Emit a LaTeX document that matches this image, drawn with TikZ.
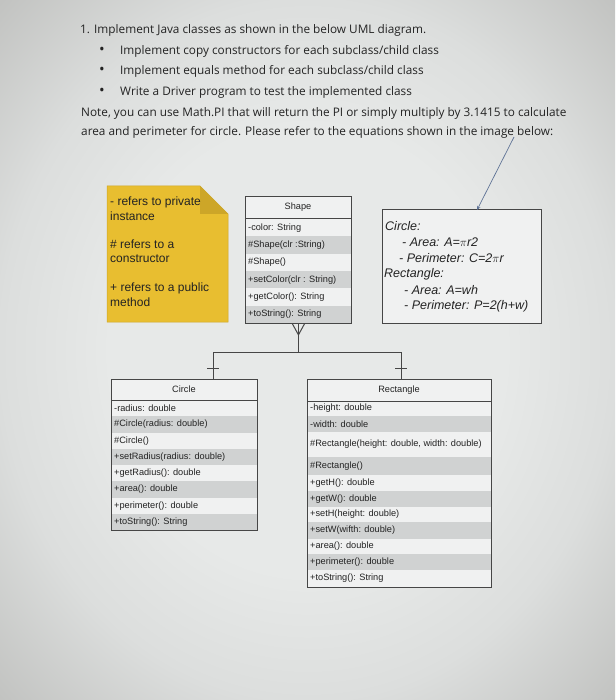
\documentclass[tikz,border=0pt]{standalone}
\usepackage{fontspec}
\setmainfont{Open Sans}
\newfontfamily\umlfont{Liberation Sans}
\usetikzlibrary{arrows.meta,calc}
\definecolor{bgin}{RGB}{231,233,232}
\definecolor{bgmid}{RGB}{220,222,221}
\definecolor{bgout}{RGB}{192,193,191}
\definecolor{boxfill}{RGB}{240,241,241}
\definecolor{rowshade}{RGB}{208,210,210}
\definecolor{boxline}{RGB}{70,70,70}
\definecolor{notey}{RGB}{232,190,48}
\definecolor{notefold}{RGB}{205,166,40}
\definecolor{txt}{RGB}{35,35,35}
\definecolor{ptrcol}{RGB}{95,115,150}
\pgfdeclareradialshading{vign}{\pgfpoint{0bp}{0bp}}{color(0bp)=(bgin); color(16bp)=(bgin); color(25bp)=(bgmid); color(36bp)=(bgout); color(50bp)=(bgout)}
\tikzset{
  headtext/.style={anchor=base west, inner sep=0pt, text=txt, font=\fontsize{11.8}{14}\selectfont},
  bullettext/.style={anchor=center, inner sep=0pt, text=txt, font=\fontsize{15}{15}\selectfont},
  rowtext/.style={inner sep=0pt, text=txt, font=\umlfont\fontsize{9.2}{11}\selectfont},
  notetext/.style={anchor=west, inner sep=0pt, text=txt, font=\umlfont\fontsize{12}{14}\selectfont},
  formtext/.style={anchor=west, inner sep=0pt, text=txt, font=\umlfont\itshape\fontsize{12.5}{14}\selectfont},
  umlbox/.style={draw=boxline, line width=0.9pt, fill=boxfill, anchor=north west, inner sep=0pt},
  conn/.style={draw=boxline, line width=1pt},
  ptr/.style={draw=ptrcol, line width=0.7pt, -{Stealth[length=4pt,width=3.5pt]}}
}
\newcommand\umlrow[7]{%
  \ifnum#6=1 \fill[rowshade] ({#2+0.5},#3) rectangle ++({#4-1},#5);\fi
  \node[rowtext, anchor=west] (#1) at ({#2+3},{#3+#5/2}) {#7};}
\begin{document}
\begin{tikzpicture}[x=1pt,y=-1pt]
\shade[shading=vign] (0,0) rectangle (615,700);
\useasboundingbox (0,0) rectangle (615,700);
% header text
\node[headtext] (h1) at (80,34) {1. Implement Java classes as shown in the below UML diagram.};
\node[bullettext] (b1) at (102,51) {•};
\node[headtext] (t1) at (120,55) {Implement copy constructors for each subclass/child class};
\node[bullettext] (b2) at (102,71) {•};
\node[headtext] (t2) at (120,75) {Implement equals method for each subclass/child class};
\node[bullettext] (b3) at (102,92) {•};
\node[headtext] (t3) at (120,96) {Write a Driver program to test the implemented class};
\node[headtext] (n1) at (81,117) {Note, you can use Math.PI that will return the PI or simply multiply by 3.1415 to calculate};
\node[headtext] (n2) at (81,136) {area and perimeter for circle. Please refer to the equations shown in the image below:};
% note
\fill[notey, draw=notefold, line width=0.5pt] (107,186) -- (200,186) -- (228,214) -- (228,322) -- (107,322) -- cycle;
\fill[notefold] (200,186) -- (200,214) -- (228,214) -- cycle;
\node[notetext] (nt1) at (110,202) {- refers to private};
\node[notetext] (nt2) at (110,216) {instance};
\node[notetext] (nt3) at (110,244) {\# refers to a};
\node[notetext] (nt4) at (110,259) {constructor};
\node[notetext] (nt5) at (110,288) {+ refers to a public};
\node[notetext] (nt6) at (110,302) {method};
% Shape
\node[umlbox, minimum width=106, minimum height=127] (shape) at (245,196) {};
\node[rowtext] (shapet) at (298,207) {Shape};
\umlrow{s1}{245}{219}{106}{17.33}{0}{-color: String}
\umlrow{s2}{245}{236.33}{106}{17.33}{1}{\#Shape(clr :String)}
\umlrow{s3}{245}{253.67}{106}{17.33}{0}{\#Shape()}
\umlrow{s4}{245}{271}{106}{17.33}{1}{+setColor(clr : String)}
\umlrow{s5}{245}{288.33}{106}{17.33}{0}{+getColor(): String}
\umlrow{s6}{245}{305.67}{106}{17.33}{1}{+toString(): String}
\draw[conn] (245,219) -- (351,219);
\draw[boxline, line width=0.9pt] (shape.north west) rectangle (shape.south east);
% formula box
\node[umlbox, minimum width=159, minimum height=114] (fbox) at (382,209) {};
\node[formtext] (f1) at (385,226) {Circle:};
\node[formtext] (f2) at (402,242) {- Area: A=$\pi$r2};
\node[formtext] (f3) at (399,258) {- Perimeter: C=2$\pi$r};
\node[formtext] (f4) at (384,274) {Rectangle:};
\node[formtext] (f5) at (404,290) {- Area: A=wh};
\node[formtext] (f6) at (404,306) {- Perimeter: P=2(h+w)};
\coordinate (lend) at (514,137);
\coordinate (ftop) at (477,210);
\draw[ptr] (lend) -- (ftop);
% Circle
\node[umlbox, minimum width=146, minimum height=151] (circ) at (111,379) {};
\node[rowtext] (circt) at (184,389) {Circle};
\umlrow{c1}{111}{400}{146}{16.25}{0}{-radius: double}
\umlrow{c2}{111}{416.25}{146}{16.25}{1}{\#Circle(radius: double)}
\umlrow{c3}{111}{432.5}{146}{16.25}{0}{\#Circle()}
\umlrow{c4}{111}{448.75}{146}{16.25}{1}{+setRadius(radius: double)}
\umlrow{c5}{111}{465}{146}{16.25}{0}{+getRadius(): double}
\umlrow{c6}{111}{481.25}{146}{16.25}{1}{+area(): double}
\umlrow{c7}{111}{497.5}{146}{16.25}{0}{+perimeter(): double}
\umlrow{c8}{111}{513.75}{146}{16.25}{1}{+toString(): String}
\draw[conn] (111,400) -- (257,400);
\draw[boxline, line width=0.9pt] (circ.north west) rectangle (circ.south east);
% Rectangle
\node[umlbox, minimum width=184, minimum height=208] (rect) at (307,379) {};
\node[rowtext] (rectt) at (399,390) {Rectangle};
\umlrow{r1}{307}{401}{184}{15}{0}{-height: double}
\umlrow{r2}{307}{416}{184}{16}{1}{-width: double}
\umlrow{r3}{307}{432}{184}{25}{0}{\#Rectangle(height: double, width: double)}
\umlrow{r4}{307}{457}{184}{18}{1}{\#Rectangle()}
\umlrow{r5}{307}{475}{184}{16}{0}{+getH(): double}
\umlrow{r6}{307}{491}{184}{16}{1}{+getW(): double}
\umlrow{r7}{307}{507}{184}{15}{0}{+setH(height: double)}
\umlrow{r8}{307}{522}{184}{17}{1}{+setW(wifth: double)}
\umlrow{r9}{307}{539}{184}{15}{0}{+area(): double}
\umlrow{r10}{307}{554}{184}{16}{1}{+perimeter(): double}
\umlrow{r11}{307}{570}{184}{17}{0}{+toString(): String}
\draw[conn] (307,401) -- (491,401);
\draw[boxline, line width=0.9pt] (rect.north west) rectangle (rect.south east);
% connectors
\coordinate (cin) at (213,379);
\coordinate (rin) at (401,379);
\draw[conn] (shape.south) -- (shape.south |- 0,352) coordinate (j);
\draw[conn] (cin |- j) -- (rin |- j);
\draw[conn] (cin |- j) -- (cin);
\draw[conn] (rin |- j) -- (rin);
\draw[conn] ($(shape.south)+(-6,0)$) -- ($(shape.south)+(0,11)$) -- ($(shape.south)+(6,0)$);
\draw[conn] ($(cin)+(-6,-11)$) -- ($(cin)+(6,-11)$);
\draw[conn] ($(rin)+(-6,-11)$) -- ($(rin)+(6,-11)$);
\end{tikzpicture}
\end{document}
